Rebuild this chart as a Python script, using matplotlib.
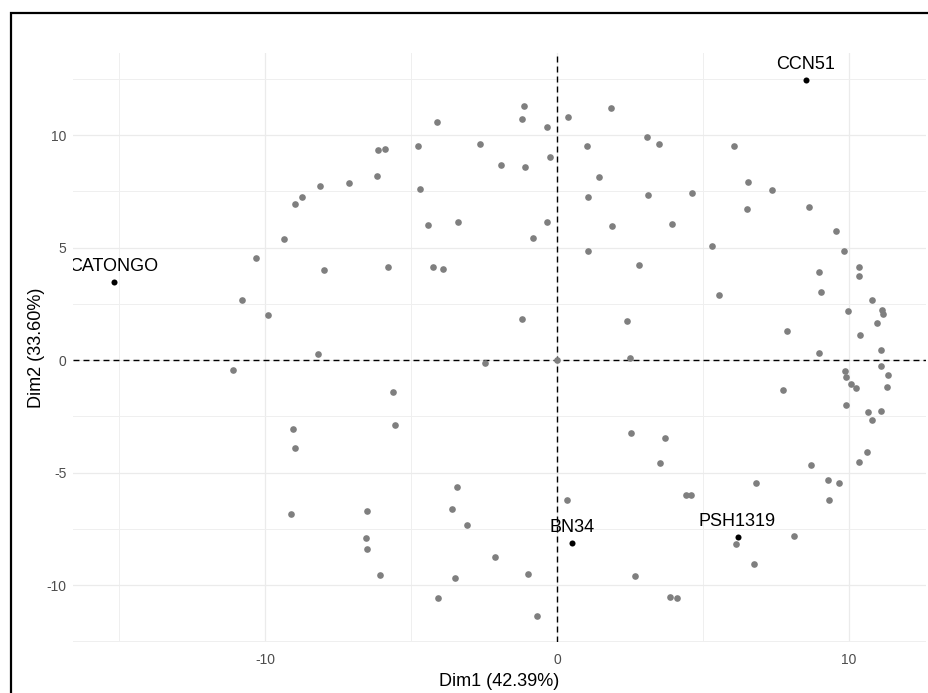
import matplotlib
matplotlib.use("Agg")
import matplotlib.pyplot as plt
from matplotlib.patches import Rectangle
from matplotlib.ticker import MultipleLocator

plt.rcParams["font.family"] = ["Liberation Sans", "DejaVu Sans"]
plt.rcParams["axes.unicode_minus"] = False

# PCA individual coordinates (Dim1, Dim2), supplementary/other genotypes in grey
dim1 = [-1.13, -1.20, -0.33, 0.39, 1.85, -4.11, -2.64, -4.78, -6.13, -5.91,
        -1.93, -1.09, -0.24, 1.02, 1.44, 1.06, -6.16, -7.13, -8.11, -8.73,
        -8.98, -4.69, -4.41, -3.39, -0.33, -0.83, 1.89, 3.08, 3.49, 6.06,
        6.56, 7.36, 3.12, 4.63, 6.52, 8.63, 9.55, 3.96, -9.34, -10.33,
        -10.79, -9.91, -11.09, -9.06, -8.98, -8.18, 1.06, -7.98, -5.79, -4.24,
        -3.89, -1.21, -2.47, 0.00, -5.62, -5.54, 5.31, 2.82, 9.84, 10.34,
        10.34, 9.00, 9.04, 5.56, 10.80, 11.14, 11.19, 9.97, 10.97, 10.39,
        7.87, 2.41, 2.49, 9.00, 11.10, 9.87, 9.92, 10.09, 10.25, 7.74,
        11.10, 11.36, 11.31, 9.92, 10.68, 11.10, 10.80, 2.53, 3.71, 3.54,
        8.70, 10.34, 10.63, 9.29, 9.67, 6.82, 4.42, 4.59, 9.34, 6.14,
        8.13, 6.77, 2.66, 3.87, 4.13, -9.11, -3.43, 0.34, -6.51, -3.61,
        -3.09, -6.55, -6.51, -2.12, -6.05, -3.48, -1.00, -4.07, -0.67]
dim2 = [11.28, 10.74, 10.37, 10.80, 11.19, 10.60, 9.60, 9.50, 9.33, 9.38,
        8.68, 8.58, 9.01, 9.50, 8.13, 7.26, 8.20, 7.87, 7.76, 7.26,
        6.95, 7.59, 6.00, 6.12, 6.16, 5.42, 5.96, 9.93, 9.60, 9.50,
        7.91, 7.57, 7.32, 7.42, 6.71, 6.82, 5.73, 6.06, 5.40, 4.52,
        2.67, 2.02, -0.44, -3.05, -3.92, 0.28, 4.86, 3.99, 4.15, 4.15,
        4.03, 1.81, -0.12, 0.00, -1.42, -2.89, 5.07, 4.21, 4.86, 4.15,
        3.76, 3.93, 3.05, 2.89, 2.68, 2.24, 2.03, 2.18, 1.63, 1.10,
        1.31, 1.75, 0.11, 0.33, 0.43, -0.49, -0.76, -1.04, -1.26, -1.32,
        -0.28, -0.65, -1.20, -2.01, -2.29, -2.24, -2.68, -3.23, -3.45, -4.59,
        -4.65, -4.53, -4.09, -5.35, -5.47, -5.47, -6.01, -6.01, -6.22, -8.19,
        -7.80, -9.05, -9.61, -10.53, -10.59, -6.83, -5.63, -6.22, -6.72, -6.60,
        -7.32, -7.92, -8.41, -8.74, -9.56, -9.67, -9.49, -10.59, -11.36]

# reference clones, labelled
ref_names = ["CCN51", "CATONGO", "BN34", "PSH1319"]
ref_dim1 = [8.54, -15.20, 0.51, 6.19]
ref_dim2 = [12.44, 3.48, -8.12, -7.87]

xlab = "Dim1 (42.39%)"
ylab = "Dim2 (33.60%)"

fig = plt.figure(figsize=(9.29, 6.93), dpi=100)
ax = fig.add_axes([0.0789, 0.0736, 0.9175, 0.8495])

ax.set_xlim(-16.58, 12.64)
ax.set_ylim(-12.53, 13.64)

ax.xaxis.set_major_locator(MultipleLocator(10))
ax.xaxis.set_minor_locator(MultipleLocator(5))
ax.yaxis.set_major_locator(MultipleLocator(5))
ax.yaxis.set_minor_locator(MultipleLocator(2.5))

ax.grid(True, which="major", color="#EBEBEB", linewidth=0.9)
ax.grid(True, which="minor", color="#EFEFEF", linewidth=0.7)
ax.set_axisbelow(True)
for s in ax.spines.values():
    s.set_visible(False)
ax.tick_params(which="both", length=0, colors="#4D4D4D", labelsize=10)
ax.tick_params(axis="x", pad=8)
ax.tick_params(axis="y", pad=5)

ax.axhline(0, color="black", linestyle=(0, (4.3, 2.9)), linewidth=1.0, zorder=1)
ax.axvline(0, color="black", linestyle=(0, (4.3, 2.9)), linewidth=1.0, zorder=1)

ax.scatter(dim1, dim2, s=23, color="#7F7F7F", linewidths=0, zorder=3)
ax.scatter(ref_dim1, ref_dim2, s=19, color="black", linewidths=0, zorder=4)

for name, x, y in zip(ref_names, ref_dim1, ref_dim2):
    t = ax.annotate(name, (x, y), xytext=(0, 11.3), textcoords="offset points",
                    ha="center", va="center", fontsize=13, color="black", zorder=5)
    t.set_clip_on(True)
    t.set_clip_box(ax.bbox)

ax.set_xlabel(xlab, fontsize=13, color="black", labelpad=4)
ax.set_ylabel(ylab, fontsize=13, color="black", labelpad=1)

# outer frame of the plot
fig.patches.append(Rectangle((11 / 929, -0.2), 1.2, 1 - 13 / 693 + 0.2,
                             transform=fig.transFigure, fill=False,
                             edgecolor="black", linewidth=1.6))

fig.savefig("out.png", dpi=100)
